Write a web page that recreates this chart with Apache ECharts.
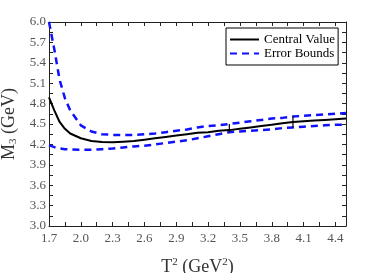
<!DOCTYPE html>
<html>
<head>
<meta charset="utf-8">
<script src="https://cdn.jsdelivr.net/npm/echarts@6/dist/echarts.min.js"></script>
<style>html,body{margin:0;padding:0;background:#fff}#c{width:382px;height:273px}</style>
</head>
<body>
<div id="c"></div>
<script>
var tSq = [1.7,1.75,1.8,1.85,1.9,2.0,2.1,2.2,2.3,2.4,2.5,2.6,2.7,2.8,2.9,3.0,3.1,3.2,3.3,3.4,3.5,3.6,3.7,3.8,3.9,4.0,4.1,4.2,4.3,4.4,4.5];
var central = [4.89,4.70,4.53,4.43,4.36,4.29,4.25,4.235,4.23,4.24,4.25,4.27,4.29,4.31,4.33,4.35,4.37,4.38,4.40,4.41,4.43,4.45,4.47,4.49,4.51,4.53,4.54,4.55,4.56,4.57,4.58];
var upper = [6.0,5.6,5.15,4.88,4.70,4.48,4.39,4.35,4.34,4.34,4.34,4.35,4.36,4.38,4.40,4.42,4.45,4.47,4.48,4.50,4.52,4.54,4.56,4.58,4.59,4.61,4.62,4.63,4.64,4.65,4.66];
var lower = [4.19,4.16,4.14,4.13,4.125,4.12,4.12,4.13,4.14,4.155,4.17,4.18,4.20,4.22,4.24,4.26,4.29,4.32,4.35,4.38,4.39,4.40,4.41,4.42,4.44,4.45,4.46,4.47,4.48,4.49,4.49];
var markT = [3.4, 4.0];
var markLow = [4.38, 4.45];
var markHigh = [4.50, 4.61];

function pairs(xs, ys){ return xs.map(function(x,i){ return [x, ys[i]]; }); }

var FONT = 'Liberation Serif';
var tickStyle = {show:true, inside:true, length:4, lineStyle:{color:'#222', width:1}};
var minorStyle = {show:true, splitNumber:2, length:4, lineStyle:{color:'#222', width:1}};
var lineStyleAxis = {color:'#222', width:1};
function fmt(v){ return (Math.round(v*10)/10).toFixed(1); }

var series = [
  {name:'Central Value', type:'line', data:pairs(tSq, central), symbol:'none', lineStyle:{color:'#000', width:2}, itemStyle:{color:'#000'}, z:3},
  {name:'Error Bounds', type:'line', data:pairs(tSq, upper), symbol:'none', lineStyle:{color:'#1010ff', width:2.5, type:[7,5]}, itemStyle:{color:'#1010ff'}, z:2},
  {name:'Error Bounds', type:'line', data:pairs(tSq, lower), symbol:'none', lineStyle:{color:'#1010ff', width:2.5, type:[7,5]}, itemStyle:{color:'#1010ff'}, z:2}
];
markT.forEach(function(t,i){
  series.push({name:'mark'+i, type:'line', data:[[t, markLow[i]],[t, markHigh[i]]], symbol:'none', lineStyle:{color:'#000', width:1.2}, z:4, silent:true});
});

var chart = echarts.init(document.getElementById('c'), null, {renderer:'canvas'});
chart.setOption({
  animation:false,
  backgroundColor:'#fff',
  textStyle:{fontFamily:FONT},
  grid:{left:49, right:36, top:22, bottom:47, containLabel:false, outerBoundsMode:'none'},
  legend:{
    data:['Central Value','Error Bounds'],
    orient:'vertical', left:226, top:28,
    itemWidth:29, itemHeight:14, itemGap:1,
    padding:[5,3,5,3],
    borderColor:'#000', borderWidth:1, backgroundColor:'#fff',
    itemStyle:{opacity:0},
    textStyle:{fontFamily:FONT, fontSize:13, color:'#000'},
    selectedMode:false
  },
  xAxis:[
    {type:'value', min:1.7, max:4.5, interval:0.3, position:'bottom',
     axisLine:{show:true, onZero:false, lineStyle:lineStyleAxis}, axisTick:tickStyle, minorTick:minorStyle,
     splitLine:{show:false},
     axisLabel:{formatter:fmt, showMaxLabel:false, fontFamily:FONT, fontSize:13, color:'#555', margin:6},
     name:'{a|T}{s|2}{a| (GeV}{s|2}{a|)}', nameLocation:'middle', nameGap:31,
     nameTextStyle:{rich:{a:{fontFamily:FONT, fontSize:18, color:'#333'}, s:{fontFamily:FONT, fontSize:11, color:'#333', verticalAlign:'top', padding:[0,0,9,0]}}}},
    {type:'value', min:1.7, max:4.5, interval:0.3, position:'top',
     axisLine:{show:true, onZero:false, lineStyle:lineStyleAxis}, axisTick:tickStyle, minorTick:minorStyle,
     splitLine:{show:false}, axisLabel:{show:false}}
  ],
  yAxis:[
    {type:'value', min:3, max:6, interval:0.3, position:'left',
     axisLine:{show:true, onZero:false, lineStyle:lineStyleAxis}, axisTick:tickStyle, minorTick:minorStyle,
     splitLine:{show:false},
     axisLabel:{formatter:fmt, fontFamily:FONT, fontSize:13, color:'#555', margin:3},
     name:'{a|M}{s|3}{a| (GeV)}', nameLocation:'middle', nameGap:28, nameRotate:90,
     nameTextStyle:{rich:{a:{fontFamily:FONT, fontSize:18, color:'#333'}, s:{fontFamily:FONT, fontSize:11, color:'#333', verticalAlign:'bottom', padding:[9,0,0,0]}}}},
    {type:'value', min:3, max:6, interval:0.3, position:'right',
     axisLine:{show:true, onZero:false, lineStyle:lineStyleAxis}, axisTick:tickStyle, minorTick:minorStyle,
     splitLine:{show:false}, axisLabel:{show:false}}
  ],
  series:series
});
</script>
</body>
</html>
